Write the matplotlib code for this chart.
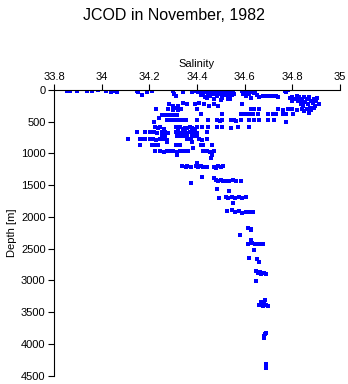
import matplotlib
matplotlib.use("Agg")
import matplotlib.pyplot as plt
import numpy as np

plt.rcParams["font.family"] = ["Liberation Sans", "DejaVu Sans"]

# upper layer, 0-400 m
upper_sal = [33.855, 33.867, 33.897, 33.939, 33.96, 33.985, 34.02, 34.04, 34.045, 34.05, 34.06, 34.065,
             34.15, 34.153, 34.171, 34.19, 34.21, 34.30, 34.305, 34.312, 34.34, 34.38, 34.395,
             34.40, 34.405, 34.41, 34.415, 34.42, 34.425, 34.43, 34.435, 34.44, 34.445, 34.45, 34.455,
             34.46, 34.465, 34.47, 34.475, 34.48, 34.485, 34.49, 34.495, 34.50, 34.505, 34.51, 34.515,
             34.52, 34.525, 34.53, 34.535, 34.54, 34.545, 34.55, 34.555, 34.44, 34.47, 34.50, 34.53,
             34.59, 34.595, 34.60, 34.605, 34.61, 34.615, 34.62, 34.625, 34.63, 34.635, 34.64, 34.645, 34.65,
             34.66, 34.675, 34.69, 34.70, 34.715, 34.73, 34.74, 34.77, 34.78, 34.775,
             34.79, 34.80, 34.81, 34.82, 34.825, 34.83, 34.835, 34.84, 34.845, 34.85, 34.855, 34.86,
             34.865, 34.87, 34.875, 34.88, 34.885, 34.89, 34.895, 34.90, 34.905, 34.91, 34.86, 34.88,
             34.87, 34.85, 34.89, 34.84, 34.80,
             34.41, 34.43, 34.45, 34.47, 34.49, 34.59, 34.625, 34.64, 34.66, 34.74, 34.76, 34.78, 34.80,
             34.82, 34.84, 34.284, 34.30, 34.31, 34.32, 34.335, 34.30, 34.23, 34.34, 34.36, 34.39, 34.40,
             34.28, 34.32,
             34.415, 34.507, 34.583, 34.60, 34.62, 34.634, 34.655, 34.697, 34.718, 34.731, 34.76, 34.773,
             34.802, 34.255, 34.27, 34.285, 34.30, 34.318, 34.24]
upper_dep = [20, 15, 25, 15, 20, 10, 25, 30, 15, 20, 10, 30,
             15, 30, 80, 40, 25, 15, 60, 95, 40, 40, 20,
             5, 40, 20, 80, 10, 50, 30, 110, 5, 60, 25, 90,
             10, 45, 70, 20, 5, 100, 35, 60, 15, 130, 45, 80,
             10, 30, 100, 55, 140, 80, 20, 60, 130, 150, 160, 150,
             20, 60, 10, 100, 40, 5, 70, 130, 30, 10, 50, 20, 80,
             110, 95, 100, 90, 95, 90, 105, 20, 10, 40,
             130, 110, 150, 100, 180, 120, 220, 140, 260, 110, 190, 150,
             230, 120, 280, 170, 210, 140, 250, 180, 130, 220, 300, 320,
             360, 330, 290, 200, 180,
             210, 230, 250, 220, 260, 225, 300, 300, 295, 300, 310, 300, 300,
             310, 300, 230, 260, 280, 250, 300, 310, 300, 205, 220, 220, 300,
             300, 310,
             380, 380, 380, 385, 380, 380, 380, 380, 380, 380, 380, 385,
             380, 395, 395, 395, 395, 395, 440]

# intermediate layer, 400-1300 m
mid_sal = [34.22, 34.276, 34.29, 34.30, 34.31, 34.325, 34.34, 34.356, 34.40, 34.448, 34.486, 34.495,
           34.507, 34.541, 34.555, 34.565, 34.583, 34.617, 34.638, 34.659, 34.697, 34.722, 34.773,
           34.225, 34.235, 34.246, 34.26, 34.31, 34.32, 34.33, 34.34, 34.35, 34.36, 34.37, 34.38,
           34.39, 34.40, 34.423, 34.448, 34.486, 34.507, 34.541, 34.571, 34.617,
           34.15, 34.183, 34.205, 34.22, 34.234, 34.255, 34.265, 34.28, 34.31, 34.32, 34.33, 34.34,
           34.35, 34.36, 34.37, 34.38, 34.39, 34.40, 34.444,
           34.255, 34.265, 34.318, 34.33, 34.34, 34.36, 34.381, 34.39, 34.40,
           34.112, 34.16, 34.17, 34.183, 34.205, 34.215, 34.23, 34.245, 34.255, 34.267, 34.276, 34.36,
           34.373, 34.41, 34.42, 34.444, 34.276, 34.381,
           34.162, 34.213, 34.225, 34.238, 34.31, 34.32, 34.33, 34.415, 34.427, 34.465, 34.385,
           34.225, 34.246, 34.26, 34.275, 34.29, 34.30, 34.315, 34.33, 34.345, 34.364, 34.427, 34.44,
           34.455, 34.47, 34.318, 34.465, 34.457, 34.402,
           34.339, 34.352, 34.36, 34.373, 34.394, 34.405, 34.415, 34.427, 34.44, 34.47, 34.48, 34.49,
           34.50, 34.51]
mid_dep = [500, 470, 470, 475, 470, 475, 470, 470, 480, 480, 480, 485,
           480, 480, 480, 485, 480, 480, 480, 480, 480, 480, 500,
           590, 600, 590, 610, 590, 600, 590, 610, 595, 600, 590, 600,
           610, 590, 590, 590, 590, 590, 600, 590, 590,
           670, 670, 665, 670, 675, 665, 670, 675, 670, 665, 675, 670,
           665, 675, 670, 665, 670, 675, 670,
           720, 730, 720, 730, 720, 730, 720, 730, 725,
           775, 780, 775, 780, 780, 775, 785, 780, 775, 780, 785, 780,
           775, 780, 785, 780, 820, 820,
           866, 870, 866, 870, 866, 870, 866, 866, 870, 866, 913,
           970, 960, 975, 965, 970, 960, 975, 965, 970, 965, 970, 960,
           975, 970, 1024, 1024, 1071, 1150,
           1195, 1215, 1200, 1210, 1205, 1215, 1200, 1210, 1215, 1210, 1225, 1205,
           1215, 1205]

# deep layer, below 1300 m
deep_sal = [34.423, 34.373, 34.47, 34.48, 34.49, 34.50, 34.51, 34.52, 34.535, 34.55, 34.565, 34.583,
            34.486, 34.533, 34.491, 34.52, 34.53, 34.545, 34.56, 34.575, 34.59, 34.605, 34.55,
            34.528, 34.545, 34.56, 34.575, 34.59, 34.605, 34.62, 34.634,
            34.613, 34.625, 34.625, 34.579, 34.625, 34.613, 34.63, 34.645, 34.66, 34.676, 34.638,
            34.617, 34.651, 34.659, 34.646, 34.655, 34.665, 34.67, 34.68, 34.689, 34.646,
            34.659, 34.67, 34.675, 34.68, 34.69, 34.697, 34.685,
            34.68, 34.685, 34.69, 34.68, 34.689, 34.689]
deep_dep = [1370, 1465, 1390, 1420, 1440, 1420, 1440, 1430, 1440, 1420, 1440, 1440,
            1559, 1591, 1700, 1680, 1700, 1690, 1700, 1680, 1700, 1690, 1780,
            1910, 1890, 1920, 1910, 1935, 1915, 1920, 1915,
            2173, 2190, 2205, 2284, 2362, 2420, 2410, 2430, 2420, 2425, 2520,
            2646, 2662, 2709, 2850, 2880, 2860, 2900, 2880, 2900, 3008,
            3380, 3340, 3400, 3360, 3380, 3400, 3310,
            3880, 3850, 3830, 3900, 4315, 4378]

salinity = np.array(upper_sal + mid_sal + deep_sal)
depth = np.array(upper_dep + mid_dep + deep_dep)

fig = plt.figure(figsize=(3.48, 3.84), dpi=100)
ax = fig.add_axes([0.155, 0.0215, 0.822, 0.7445])
ax.plot(salinity, depth, "s", color="#0000ff", markersize=2.3, markeredgewidth=0,
        antialiased=False)

ax.set_xlim(33.8, 35)
ax.set_ylim(4500, 0)
ax.set_xticks([33.8, 34, 34.2, 34.4, 34.6, 34.8, 35])
ax.set_xticklabels(["33.8", "34", "34.2", "34.4", "34.6", "34.8", "35"])
ax.set_yticks(np.arange(0, 4501, 500))
ax.xaxis.tick_top()
ax.xaxis.set_label_position("top")
ax.spines["right"].set_visible(False)
ax.spines["bottom"].set_visible(False)
ax.tick_params(labelsize=8, length=4, width=0.8, direction="out", pad=2)
ax.set_xlabel("Salinity", fontsize=8, labelpad=3)
ax.set_ylabel("Depth [m]", fontsize=8, labelpad=3)
fig.suptitle("JCOD in November, 1982", fontsize=11.5, y=0.98)

fig.savefig("out.png", dpi=100)
